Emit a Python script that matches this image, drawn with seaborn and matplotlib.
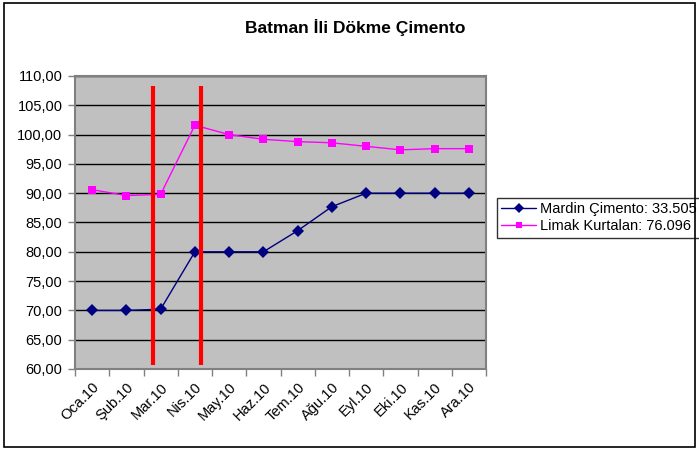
import matplotlib
matplotlib.use("Agg")
import matplotlib.pyplot as plt
import seaborn as sns
import pandas as pd
import numpy as np
from matplotlib.patches import Rectangle
from matplotlib.ticker import FuncFormatter, FixedLocator

months = ["Oca.10", "Şub.10", "Mar.10", "Nis.10", "May.10", "Haz.10",
          "Tem.10", "Ağu.10", "Eyl.10", "Eki.10", "Kas.10", "Ara.10"]
mardin = [70.0, 70.0, 70.2, 80.0, 80.0, 80.0, 83.6, 87.7, 90.0, 90.0, 90.0, 90.0]
limak = [90.6, 89.6, 89.8, 101.6, 100.0, 99.2, 98.8, 98.6, 98.0, 97.4, 97.6, 97.6]
series_names = ["Mardin Çimento: 33.505", "Limak Kurtalan: 76.096"]
red_line_pos = [1.78, 3.18]

sns.set_theme(style="white")
plt.rcParams['font.family'] = ['Liberation Sans', 'DejaVu Sans']
plt.rcParams['text.color'] = 'black'
plt.rcParams['xtick.color'] = 'black'
plt.rcParams['ytick.color'] = 'black'

df = pd.DataFrame({
    "idx": list(range(len(months))) * 2,
    "value": mardin + limak,
    "series": [series_names[0]] * len(months) + [series_names[1]] * len(months),
})

fig = plt.figure(figsize=(6.99, 4.5), dpi=100)
ax = fig.add_axes([75/699, 1-369/450, (486-75)/699, (369-76)/450])
ax.set_facecolor("#C0C0C0")

sns.lineplot(data=df, x="idx", y="value", hue="series", style="series",
             palette=["#000080", "#FF00FF"], markers=["D", "s"], dashes=False,
             markersize=6, markeredgewidth=0, linewidth=1.0, ax=ax, zorder=3,
             legend=True)

ax.set_xlim(-0.5, len(months) - 0.5)
ax.set_ylim(60, 110)
ax.set_yticks(np.arange(60, 111, 5))
ax.yaxis.set_major_formatter(FuncFormatter(lambda v, p: f"{v:.2f}".replace(".", ",")))
ax.set_xticks(range(len(months)))
ax.set_xticklabels(months, rotation=45, ha="right", rotation_mode="anchor")
ax.xaxis.set_minor_locator(FixedLocator(np.arange(-0.5, len(months), 1)))
ax.tick_params(axis="x", which="major", length=0, pad=8, labelsize=10.5, labelcolor="black")
ax.tick_params(axis="x", which="minor", length=5, width=1, color="#808080", direction="out", bottom=True)
ax.tick_params(axis="y", which="major", length=5, width=1, color="#808080", direction="out", left=True,
               labelsize=10.5, pad=4, labelcolor="black")
ax.grid(axis="y", color="black", linewidth=1, zorder=1)
ax.set_axisbelow(True)
ax.set_xlabel("")
ax.set_ylabel("")
for s in ax.spines.values():
    s.set_color("#808080")
    s.set_linewidth(1.5)
    s.set_visible(True)

for xp in red_line_pos:
    ax.plot([xp, xp], [60.7, 108.3], color="#FF0000", linewidth=3, zorder=4, solid_capstyle="butt")

leg = ax.legend(loc="upper left", bbox_to_anchor=(497/699, 1-198/450), bbox_transform=fig.transFigure,
                frameon=True, fancybox=False, fontsize=10.5, borderpad=0.3, labelspacing=0.2,
                handlelength=2.4, handletextpad=0.25, borderaxespad=0)
leg.get_frame().set_edgecolor("black")
leg.get_frame().set_linewidth(1)
for h in leg.legend_handles:
    h.set_markersize(5)
for t in leg.get_texts():
    t.set_color("black")

fig.text(355/699, 1-27/450, "Batman İli Dökme Çimento", ha="center", va="center",
         fontsize=12.5, fontweight="bold", color="black")

fig.patches.append(Rectangle((4/699, 3/450), 691/699, 444/450, transform=fig.transFigure,
                             fill=False, edgecolor="black", linewidth=1.2))

fig.savefig("out.png", dpi=100)
